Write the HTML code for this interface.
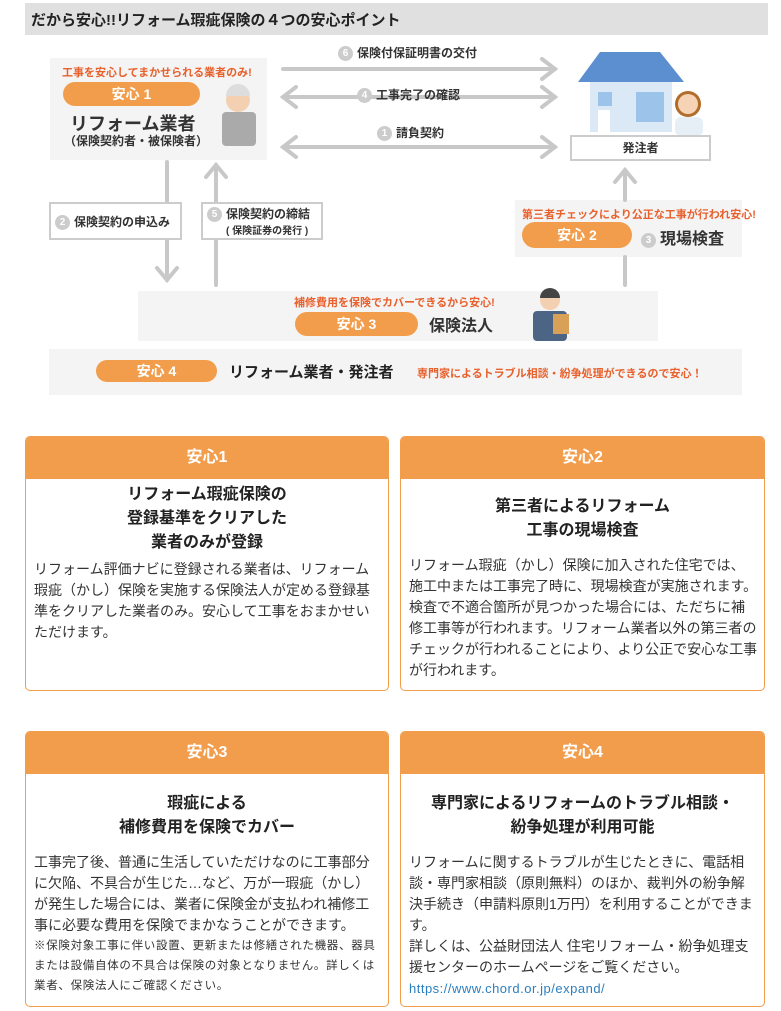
<!DOCTYPE html>
<html><head><meta charset="utf-8"><style>
*{margin:0;padding:0;box-sizing:border-box}
body{width:781px;height:1011px;background:#fff;font-family:"Liberation Sans","Noto Sans CJK JP",sans-serif;color:#333;position:relative;overflow:hidden}
.a{position:absolute}
.bg{background:#f4f4f4}
.pill{position:absolute;background:#f29d4b;color:#fff;border-radius:14px;text-align:center;font-weight:bold;font-size:14px}
.red{color:#e8602c;font-size:11px;font-weight:bold;position:absolute;white-space:nowrap}
.lbl{position:absolute;font-size:12px;font-weight:bold;white-space:nowrap;color:#333}
.num{display:inline-block;width:15px;height:15px;border-radius:50%;background:#ccc;color:#fff;font-size:10px;text-align:center;line-height:15px;margin-right:4px;vertical-align:1px}
.card{position:absolute;border:1px solid #f29d4b;border-radius:5px;overflow:hidden}
.card .h{background:#f29d4b;color:#fff;font-weight:bold;font-size:16px;text-align:center;height:42px;line-height:42px}
.card .t{font-weight:bold;font-size:16px;text-align:center;line-height:24px;color:#222}
.card .p{font-size:14px;line-height:21px;padding:0 6px 0 8px;color:#333}
</style></head><body>
<div class="a" style="left:25px;top:3px;width:743px;height:32px;background:#e0e0e0"></div>
<div class="a" style="left:31px;top:9px;font-size:15px;font-weight:bold;color:#222">だから安心!!リフォーム瑕疵保険の４つの安心ポイント</div>

<div class="a bg" style="left:50px;top:58px;width:217px;height:102px"></div>
<div class="a bg" style="left:515px;top:200px;width:227px;height:57px"></div>
<div class="a bg" style="left:138px;top:291px;width:520px;height:50px"></div>
<div class="a bg" style="left:49px;top:349px;width:693px;height:46px"></div>

<svg class="a" style="left:0;top:0" width="781" height="400">
<g stroke="#c8c8c8" stroke-width="4" fill="none" stroke-linecap="round">
<line x1="283" y1="69" x2="555" y2="69"/><polyline points="542,59 555,69 542,79"/>
<line x1="283" y1="97" x2="555" y2="97"/><polyline points="542,87 555,97 542,107"/><polyline points="296,87 283,97 296,107"/>
<line x1="283" y1="147" x2="555" y2="147"/><polyline points="542,137 555,147 542,157"/><polyline points="296,137 283,147 296,157"/>
<line x1="167" y1="162" x2="167" y2="280"/><polyline points="157,268 167,280 177,268"/>
<line x1="216" y1="285" x2="216" y2="165"/><polyline points="206,177 216,165 226,177"/>
<line x1="625" y1="285" x2="625" y2="257"/>
<line x1="625" y1="200" x2="625" y2="170"/><polyline points="615,182 625,170 635,182"/>
</g>
<polygon points="578,82 600,52 660,52 684,82" fill="#5b8fd0"/>
<rect x="590" y="82" width="82" height="50" fill="#dbe9f7"/>
<rect x="598" y="92" width="14" height="14" fill="#9cc3ea"/>
<rect x="636" y="92" width="28" height="30" fill="#9cc3ea"/>
<rect x="598" y="110" width="12" height="22" fill="#fff"/>
<circle cx="688" cy="104" r="13" fill="#b06d2a"/>
<circle cx="688" cy="104" r="10" fill="#f7d3b5"/>
<rect x="675" y="117" width="28" height="19" rx="6" fill="#e6eef6"/>
<circle cx="238" cy="100" r="12" fill="#f4d0b3"/>
<path d="M226 96a12 12 0 0 1 24 0z" fill="#ddd"/>
<rect x="222" y="112" width="34" height="34" rx="4" fill="#aaa"/>
<circle cx="550" cy="300" r="10" fill="#f4d0b3"/>
<path d="M540 298a10 10 0 0 1 20 0z" fill="#444"/>
<rect x="533" y="311" width="34" height="30" rx="4" fill="#4c6584"/>
<rect x="553" y="314" width="16" height="20" fill="#d9a058"/>
</svg>

<div class="red" style="left:62px;top:64px">工事を安心してまかせられる業者のみ!</div>
<div class="pill" style="left:63px;top:82px;width:137px;height:24px;line-height:24px">安心 1</div>
<div class="a" style="left:70px;top:110px;font-size:18px;font-weight:bold">リフォーム業者</div>
<div class="a" style="left:64px;top:132px;font-size:12px;font-weight:bold">（保険契約者・被保険者）</div>

<div class="lbl" style="left:338px;top:44px"><span class="num">6</span>保険付保証明書の交付</div>
<div class="lbl" style="left:357px;top:86px"><span class="num">4</span>工事完了の確認</div>
<div class="lbl" style="left:377px;top:124px"><span class="num">1</span>請負契約</div>

<div class="a" style="left:570px;top:135px;width:141px;height:26px;border:2px solid #ccc;background:#fff;text-align:center;font-size:12px;font-weight:bold;line-height:22px">発注者</div>

<div class="a" style="left:49px;top:202px;width:133px;height:38px;border:2px solid #ccc;background:#fff"></div>
<div class="lbl" style="left:55px;top:213px"><span class="num">2</span>保険契約の申込み</div>
<div class="a" style="left:201px;top:202px;width:122px;height:38px;border:2px solid #ccc;background:#fff"></div>
<div class="lbl" style="left:207px;top:205px"><span class="num">5</span>保険契約の締結</div>
<div class="a" style="left:226px;top:222px;font-size:10px;font-weight:bold">( 保険証券の発行 )</div>

<div class="red" style="left:522px;top:206px">第三者チェックにより公正な工事が行われ安心!</div>
<div class="pill" style="left:522px;top:222px;width:110px;height:26px;line-height:26px">安心 2</div>
<div class="a" style="left:641px;top:225px;font-size:16px;font-weight:bold"><span class="num">3</span>現場検査</div>

<div class="red" style="left:294px;top:294px">補修費用を保険でカバーできるから安心!</div>
<div class="pill" style="left:295px;top:312px;width:123px;height:24px;line-height:24px">安心 3</div>
<div class="a" style="left:429px;top:312px;font-size:16px;font-weight:bold">保険法人</div>

<div class="pill" style="left:96px;top:360px;width:121px;height:22px;line-height:22px">安心 4</div>
<div class="a" style="left:229px;top:361px;font-size:15px;font-weight:bold;color:#222">リフォーム業者・発注者</div>
<div class="red" style="left:417px;top:365px">専門家によるトラブル相談・紛争処理ができるので安心！</div>

<div class="card" style="left:25px;top:436px;width:364px;height:255px">
<div class="h">安心1</div>
<div class="t" style="margin-top:4px">リフォーム瑕疵保険の<br>登録基準をクリアした<br>業者のみが登録</div>
<div class="p" style="margin-top:4px">リフォーム評価ナビに登録される業者は、リフォーム瑕疵（かし）保険を実施する保険法人が定める登録基準をクリアした業者のみ。安心して工事をおまかせいただけます。</div>
</div>
<div class="card" style="left:400px;top:436px;width:365px;height:255px">
<div class="h">安心2</div>
<div class="t" style="margin-top:16px">第三者によるリフォーム<br>工事の現場検査</div>
<div class="p" style="margin-top:12px">リフォーム瑕疵（かし）保険に加入された住宅では、施工中または工事完了時に、現場検査が実施されます。検査で不適合箇所が見つかった場合には、ただちに補修工事等が行われます。リフォーム業者以外の第三者のチェックが行われることにより、より公正で安心な工事が行われます。</div>
</div>
<div class="card" style="left:25px;top:731px;width:364px;height:276px">
<div class="h">安心3</div>
<div class="t" style="margin-top:18px">瑕疵による<br>補修費用を保険でカバー</div>
<div class="p" style="margin-top:12px">工事完了後、普通に生活していただけなのに工事部分に欠陥、不具合が生じた…など、万が一瑕疵（かし）が発生した場合には、業者に保険金が支払われ補修工事に必要な費用を保険でまかなうことができます。<br><span style="font-size:11.5px;letter-spacing:0.7px;line-height:20px;display:block">※保険対象工事に伴い設置、更新または修繕された機器、器具または設備自体の不具合は保険の対象となりません。詳しくは業者、保険法人にご確認ください。</span></div>
</div>
<div class="card" style="left:400px;top:731px;width:365px;height:276px">
<div class="h">安心4</div>
<div class="t" style="margin-top:18px">専門家によるリフォームのトラブル相談・<br>紛争処理が利用可能</div>
<div class="p" style="margin-top:12px">リフォームに関するトラブルが生じたときに、電話相談・専門家相談（原則無料）のほか、裁判外の紛争解決手続き（申請料原則1万円）を利用することができます。<br>詳しくは、公益財団法人 住宅リフォーム・紛争処理支援センターのホームページをご覧ください。<br><span style="color:#2a7fc1;font-size:13px;letter-spacing:0.5px">https://www.chord.or.jp/expand/</span></div>
</div>
</body></html>
